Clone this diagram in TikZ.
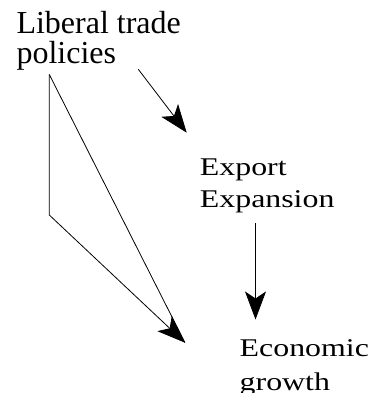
\documentclass[tikz,border=0pt]{standalone}
\usepackage{fontspec}
\usetikzlibrary{arrows.meta}
\setmainfont{Liberation Serif}
\newfontfamily\wideserif[FakeStretch=1.25]{Liberation Serif}

\begin{document}
\begin{tikzpicture}[x=1pt,y=-1pt,
    bigtext/.style={inner sep=0pt, anchor=base west, align=left,
      font=\fontsize{32}{29.3}\selectfont},
    smalltext/.style={inner sep=0pt, anchor=base west, align=left,
      font=\wideserif\fontsize{25.5}{32}\selectfont},
    link/.style={line width=0.8pt, draw=black},
    arrowlink/.style={link, -{Stealth[length=28pt, width=21pt, inset=7pt]}}]

  \useasboundingbox (0,0) rectangle (373,393);

  % labels (a multi-line node's base is its last line)
  \node[bigtext]   (policy) at (16.3,63.3)  {Liberal trade\\policies};
  \node[smalltext] (export) at (199.7,207.3) {Export\\Expansion};
  \node[smalltext, font=\wideserif\fontsize{25.5}{34}\selectfont]
                   (growth) at (239.5,390) {Economic\\growth};

  % connector end points
  \coordinate (policy-out)  at (138.3,69.3);
  \coordinate (export-in)   at (186.7,132.7);
  \coordinate (policy-foot) at (49.3,74.5);
  \coordinate (policy-bend) at (49.3,215);
  \coordinate (growth-in)   at (185,342.7);
  \coordinate (export-out)  at (255.5,223);
  \coordinate (growth-top)  at (255.5,319.5);

  % policies -> export expansion
  \draw[arrowlink] (policy-out) -- (export-in);
  % policies -> economic growth, direct and via the bend
  \draw[link] (policy-foot) -- (growth-in);
  \draw[arrowlink] (policy-foot) -- (policy-bend) -- (growth-in);
  % export expansion -> economic growth
  \draw[arrowlink] (export-out) -- (growth-top);
\end{tikzpicture}
\end{document}
